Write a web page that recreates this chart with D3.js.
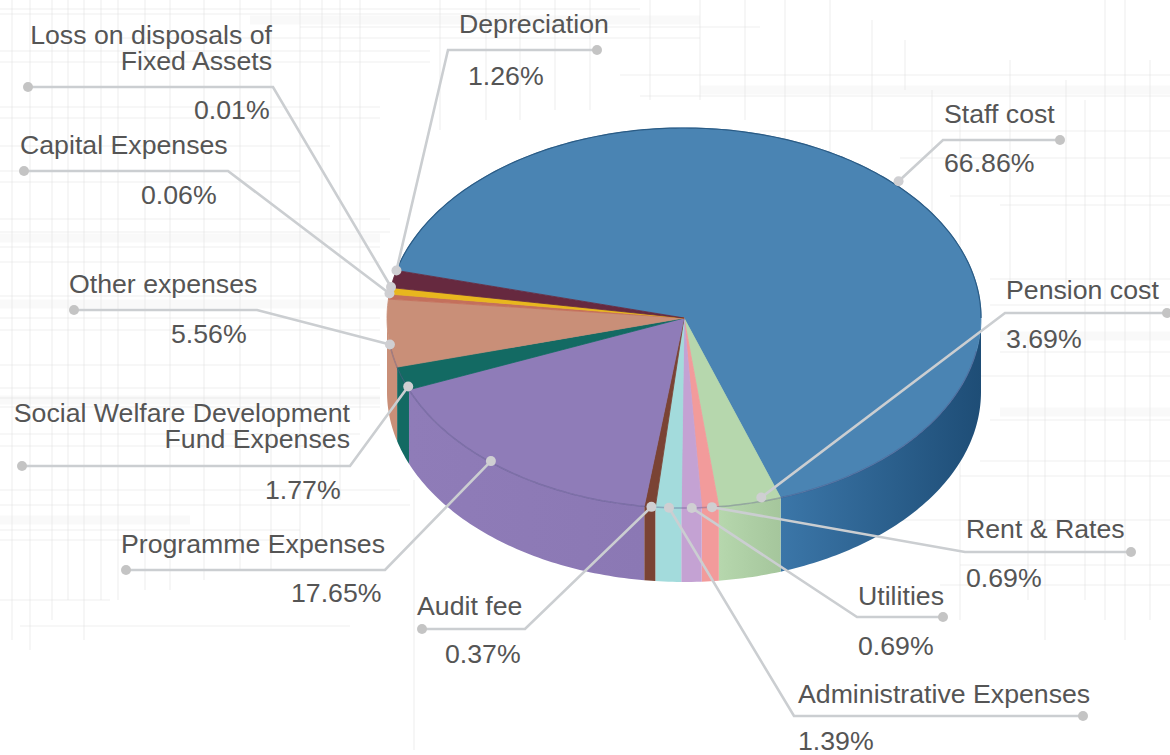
<!DOCTYPE html>
<html>
<head>
<meta charset="utf-8">
<script src="https://cdn.jsdelivr.net/npm/d3@7"></script>
<style>
body { margin: 0; background: #fff; }
text { font-family: "Liberation Sans", Arial, sans-serif; font-size: 26.7px; fill: #555; }
</style>
</head>
<body>
<div id="chart"></div>
<script>
// slice order runs clockwise starting at the staff slice
let categories = ["Staff cost", "Pension cost", "Rent & Rates", "Utilities", "Administrative Expenses", "Audit fee",
    "Programme Expenses", "Social Welfare Development Fund Expenses", "Other expenses", "Capital Expenses",
    "Loss on disposals of Fixed Assets", "Depreciation"];
let percentLabels = ["66.86%", "3.69%", "0.69%", "0.69%", "1.39%", "0.37%", "17.65%", "1.77%", "5.56%", "0.06%", "0.01%", "1.26%"];
// wedge sizes, the small wedges are drawn wider than their printed percent
let wedgeSizes = [65.7, 3.4, 0.92, 1.1, 1.39, 0.6, 16.7, 2, 5.75, 0.42, 0.55, 1.47];
let colors = ["#4a84b3", "#b6d7ad", "#f29b9b", "#c4a2d3", "#a3dbdc", "#7a4334", "#8f7cb8", "#136a63", "#c98f78", "#c4705c", "#e8b71e", "#66293f"];

// faint scratchy paper lines behind the chart: [position, from, to]
let bgHoriz = [[9,0,640],[14,0,520],[27,300,760],[38,120,700],[51,0,430],[62,0,430],[75,620,1170],[96,640,1170],[107,0,380],
    [118,0,380],[131,760,1170],[146,0,330],[158,900,1170],[171,0,300],[182,0,300],[196,950,1170],[205,1000,1170],[219,0,390],
    [232,0,390],[247,0,380],[262,0,380],[279,990,1170],[296,0,390],[305,990,1170],[318,0,380],[330,0,380],[352,1000,1170],
    [365,0,380],[376,980,1170],[388,0,380],[398,0,380],[407,0,380],[420,990,1170],[434,0,360],[446,0,340],[461,980,1170],
    [476,960,1170],[490,0,400],[505,0,410],[520,850,1170],[530,0,300],[540,0,300],[565,960,1170],[585,940,1170],[600,0,110],[626,20,350]];
let bgVert = [[12,0,640],[30,0,650],[52,0,620],[68,0,600],[84,0,640],[101,0,600],[118,0,600],[145,0,590],[170,0,590],[204,0,580],
    [240,0,570],[271,0,570],[300,0,560],[322,0,540],[340,0,500],[360,0,420],[414,480,750],[440,0,130],[486,0,120],[520,0,120],
    [555,0,110],[590,0,110],[650,0,100],[700,0,100],[745,0,120],[785,0,170],[830,0,160],[872,20,130],[905,40,90],[932,90,220],
    [960,120,620],[1010,60,300],[1028,340,600],[1045,340,640],[1066,80,300],[1085,100,600],[1105,0,620],[1125,0,640],[1150,60,620]];
let bgBands = [[238,0,380],[304,0,390],[400,0,380],[412,1000,1170],[336,1000,1170],[90,700,1170],[20,250,700],[520,0,190]];

// leaders: outer dot x, elbow x, line y, then where it lands on the pie (angle in degrees, radius 1 = rim)
let leaderDotX = [1060, 1167, 1131, 943, 1083, 422, 126, 22, 74, 24, 28, 597];
let leaderElbowX = [943, 1005, 965, 857, 794, 525, 385, 350, 257, 228, 273, 448];
let leaderY = [140, 313, 552, 617, 716, 629, 570, 466, 310, 171, 87, 50];
let leaderAngle = [45.1, 164.6, 174.6, 178.5, 182.9, 186.3, 220.8, 248.8, 262, 277.4, 279.4, 284.5];
let leaderRadius = [1.02, 0.98, 1, 1, 1, 1, 0.995, 0.996, 1, 1, 1, 1];

// label lines: text, x, first baseline, percent baseline, anchor, percent x
let labelRows = [
    [["Staff cost"], 944, 123, 172, "start", 944],
    [["Pension cost"], 1006, 299, 348, "start", 1006],
    [["Rent & Rates"], 966, 538, 587, "start", 966],
    [["Utilities"], 858, 605, 655, "start", 858],
    [["Administrative Expenses"], 798, 703, 750, "start", 798],
    [["Audit fee"], 417, 615, 663, "start", 445],
    [["Programme Expenses"], 121, 553, 602, "start", 291],
    [["Social Welfare Development", "Fund Expenses"], 350, 422, 499, "end", 265],
    [["Other expenses"], 69, 293, 343, "start", 171],
    [["Capital Expenses"], 20, 154, 204, "start", 141],
    [["Loss on disposals of", "Fixed Assets"], 272, 44, 119, "end", 194],
    [["Depreciation"], 459, 33, 85, "start", 468]
];

let width = 1170, height = 755, depth = 74, startDeg = -75.5, lineGap = 26;

let svg = d3.select("#chart").append("svg").attr("width", width).attr("height", height);

let x = d3.scaleLinear().domain([-1, 1]).range([387, 981]);
let y = d3.scaleLinear().domain([-1, 1]).range([128, 508]);

function rimPoint(deg, r) {
    let a = deg * Math.PI / 180;
    return [x(r * Math.sin(a)), y(-r * Math.cos(a))];
}
function rimPoints(a0, a1, drop) {
    let n = Math.max(2, Math.ceil(Math.abs(a1 - a0)) + 1);
    let pts = [];
    for (let i = 0; i < n; i++) {
        let p = rimPoint(a0 + (a1 - a0) * i / (n - 1), 1);
        pts.push([p[0], p[1] + drop]);
    }
    return pts;
}
let line = d3.line();

// background texture
let bg = svg.append("g").attr("fill", "none");
bg.selectAll(".b").data(bgBands).enter().append("line")
    .attr("x1", d => d[1]).attr("x2", d => d[2]).attr("y1", d => d[0]).attr("y2", d => d[0])
    .attr("stroke", "#ececec").attr("stroke-width", 9).attr("opacity", 0.3);
bg.selectAll(".h").data(bgHoriz).enter().append("line")
    .attr("x1", d => d[1]).attr("x2", d => d[2]).attr("y1", d => d[0]).attr("y2", d => d[0])
    .attr("stroke", "#e4e4e4").attr("stroke-width", 1.2).attr("opacity", 0.55);
bg.selectAll(".v").data(bgVert).enter().append("line")
    .attr("y1", d => d[1]).attr("y2", d => d[2]).attr("x1", d => d[0]).attr("x2", d => d[0])
    .attr("stroke", "#e4e4e4").attr("stroke-width", 1.2).attr("opacity", 0.55);

let pie = d3.pie().sort(null)
    .startAngle(startDeg * Math.PI / 180).endAngle((360 + startDeg) * Math.PI / 180);
let slices = pie(wedgeSizes).map((d, i) => ({
    i: i, a0: d.startAngle * 180 / Math.PI, a1: d.endAngle * 180 / Math.PI, color: colors[i]
}));

// wall shading, left and right end of the side of each slice
let wallStops = {0: ["#3b76a8", "#1e4d76"], 1: ["#b6d7ad", "#a5c69c"], 6: ["#8f7cb8", "#8b78b4"]};
let defs = svg.append("defs");
slices.forEach(s => {
    let k = wallStops[s.i] || [s.color, s.color];
    let g = defs.append("linearGradient").attr("id", "wall" + s.i);
    g.append("stop").attr("offset", "0%").attr("stop-color", k[0]);
    g.append("stop").attr("offset", "100%").attr("stop-color", k[1]);
});

// side walls, only the part of each slice facing the viewer
let walls = slices.filter(s => s.a1 > 90 && s.a0 < 270);
svg.append("g").selectAll("path").data(walls).enter().append("path")
    .attr("d", s => {
        let a0 = Math.max(s.a0, 90), a1 = Math.min(s.a1, 270);
        return line(rimPoints(a0, a1, 0).concat(rimPoints(a1, a0, depth))) + "Z";
    })
    .attr("fill", s => "url(#wall" + s.i + ")");

// top face
svg.append("g").selectAll("path").data(slices).enter().append("path")
    .attr("d", s => line([[x(0), y(0)]].concat(rimPoints(s.a0, s.a1, 0))) + "Z")
    .attr("fill", s => s.color)
    .attr("stroke", s => s.color).attr("stroke-width", 0.8);

// darker rim on the top ellipse
svg.append("path").attr("d", line(rimPoints(startDeg, 90, 0)))
    .attr("fill", "none").attr("stroke", "#2a5b85").attr("stroke-width", 1.2);
svg.append("path").attr("d", line(rimPoints(100, 262, 0)))
    .attr("fill", "none").attr("stroke", "#4d4a7e").attr("stroke-opacity", 0.35).attr("stroke-width", 1.5);

// leaders
let leaders = svg.append("g");
categories.forEach((c, i) => {
    let end = rimPoint(leaderAngle[i], leaderRadius[i]);
    leaders.append("path")
        .attr("d", line([[leaderDotX[i], leaderY[i]], [leaderElbowX[i], leaderY[i]], end]))
        .attr("fill", "none").attr("stroke", "#cbced1").attr("stroke-width", 2.6);
    leaders.append("circle").attr("cx", leaderDotX[i]).attr("cy", leaderY[i]).attr("r", 5).attr("fill", "#c4c4c4");
    leaders.append("circle").attr("cx", end[0]).attr("cy", end[1]).attr("r", 5).attr("fill", "#cfcfd2");
});

// labels, two line names stay one text element
labelRows.forEach((row, i) => {
    let t = svg.append("text").attr("text-anchor", row[4]);
    row[0].forEach((s, j) => {
        t.append("tspan").attr("x", row[1]).attr("y", row[2] + j * lineGap).text(s);
    });
    svg.append("text").attr("x", row[5]).attr("y", row[3]).text(percentLabels[i]);
});
</script>
</body>
</html>
